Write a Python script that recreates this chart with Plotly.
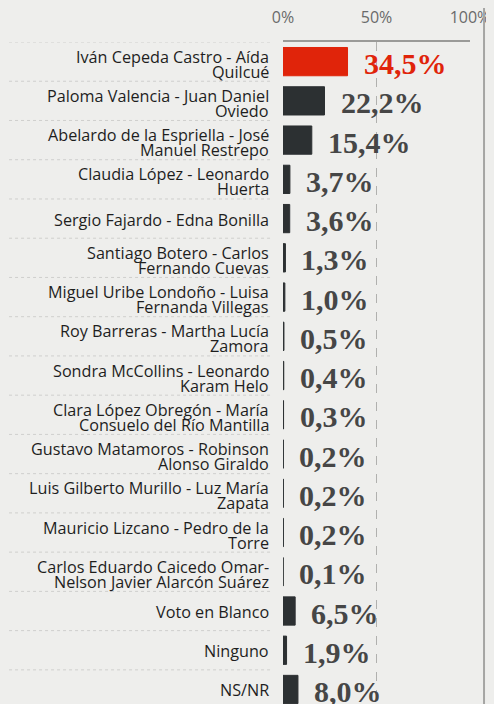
import plotly.graph_objects as go

candidates = [
    "Iván Cepeda Castro - Aída<br>Quilcué",
    "Paloma Valencia - Juan Daniel<br>Oviedo",
    "Abelardo de la Espriella - José<br>Manuel Restrepo",
    "Claudia López - Leonardo<br>Huerta",
    "Sergio Fajardo - Edna Bonilla",
    "Santiago Botero - Carlos<br>Fernando Cuevas",
    "Miguel Uribe Londoño - Luisa<br>Fernanda Villegas",
    "Roy Barreras - Martha Lucía<br>Zamora",
    "Sondra McCollins - Leonardo<br>Karam Helo",
    "Clara López Obregón - María<br>Consuelo del Río Mantilla",
    "Gustavo Matamoros - Robinson<br>Alonso Giraldo",
    "Luis Gilberto Murillo - Luz María<br>Zapata",
    "Mauricio Lizcano - Pedro de la<br>Torre",
    "Carlos Eduardo Caicedo Omar-<br>Nelson Javier Alarcón Suárez",
    "Voto en Blanco",
    "Ninguno",
    "NS/NR",
]
values = [34.5, 22.2, 15.4, 3.7, 3.6, 1.3, 1.0, 0.5, 0.4, 0.3, 0.2, 0.2, 0.2, 0.1, 6.5, 1.9, 8.0]
x_ticks = [0, 50, 100]
x_tick_labels = ["0%", "50%", "100%"]

BG = "#eeeeec"
RED = "#e0240a"
DARK = "#2c3032"
bar_colors = [RED] + [DARK] * (len(values) - 1)
text_colors = [RED] + ["#464646"] * (len(values) - 1)
labels = [f"{v:.1f}".replace(".", ",") + "%" for v in values]

LABEL_FONT = dict(family="Open Sans", size=16.2, color="#1e1e1e")

fig = go.Figure()
fig.add_trace(go.Bar(
    x=values, y=candidates, orientation="h",
    marker=dict(color=bar_colors, line=dict(color=bar_colors, width=1)),
    width=0.72, hoverinfo="skip",
))

for c, v, t, col in zip(candidates, values, labels, text_colors):
    fig.add_annotation(x=v, y=c, text="<b>" + t + "</b>", showarrow=False, xanchor="left",
                       yanchor="middle", xshift=14, yshift=-2,
                       font=dict(family="Liberation Serif", size=30, color=col))
    lines = c.split("<br>")
    if len(lines) == 1:
        fig.add_annotation(x=-0.065, xref="paper", y=c, text=lines[0], showarrow=False,
                           xanchor="right", yanchor="middle", yshift=-1, font=LABEL_FONT)
    else:
        fig.add_annotation(x=-0.065, xref="paper", y=c, text=lines[0], showarrow=False,
                           xanchor="right", yanchor="middle", yshift=5, font=LABEL_FONT)
        fig.add_annotation(x=-0.065, xref="paper", y=c, text=lines[1], showarrow=False,
                           xanchor="right", yanchor="middle", yshift=-10, font=LABEL_FONT)

n = len(candidates)
shapes = []
for i in range(n + 1):
    yy = i - 0.5
    shapes.append(dict(type="line", xref="paper", yref="y",
                       x0=-1.465, x1=-0.06, y0=yy, y1=yy,
                       line=dict(color="#cfcfcd", width=1, dash="dot")))
shapes.append(dict(type="line", xref="paper", yref="paper",
                   x0=1.075, x1=1.075, y0=-0.05, y1=1.1,
                   line=dict(color="#a5a5a3", width=2)))

# page body has an 8px default margin: figure is sized/offset to compensate
fig.update_layout(
    width=486, height=696,
    margin=dict(l=275, r=24, t=34, b=0),
    paper_bgcolor=BG, plot_bgcolor=BG,
    showlegend=False,
    bargap=0.28,
    shapes=shapes,
    xaxis=dict(side="top", range=[0, 100], tickvals=x_ticks, ticktext=x_tick_labels,
               showgrid=True, gridcolor="#b0b0ae", griddash="dash", gridwidth=1,
               showline=True, linecolor="#9a9a98", linewidth=2,
               zeroline=False, ticks="", ticklabelstandoff=11, automargin=False,
               tickfont=dict(family="Open Sans", size=16, color="#6a6a6a")),
    yaxis=dict(categoryorder="array", categoryarray=candidates,
               range=[16.37, -0.5], showgrid=False, zeroline=False,
               ticks="", showticklabels=False, automargin=False),
)

fig.write_html("out.html", post_script="document.body.style.background='%s';" % BG)
